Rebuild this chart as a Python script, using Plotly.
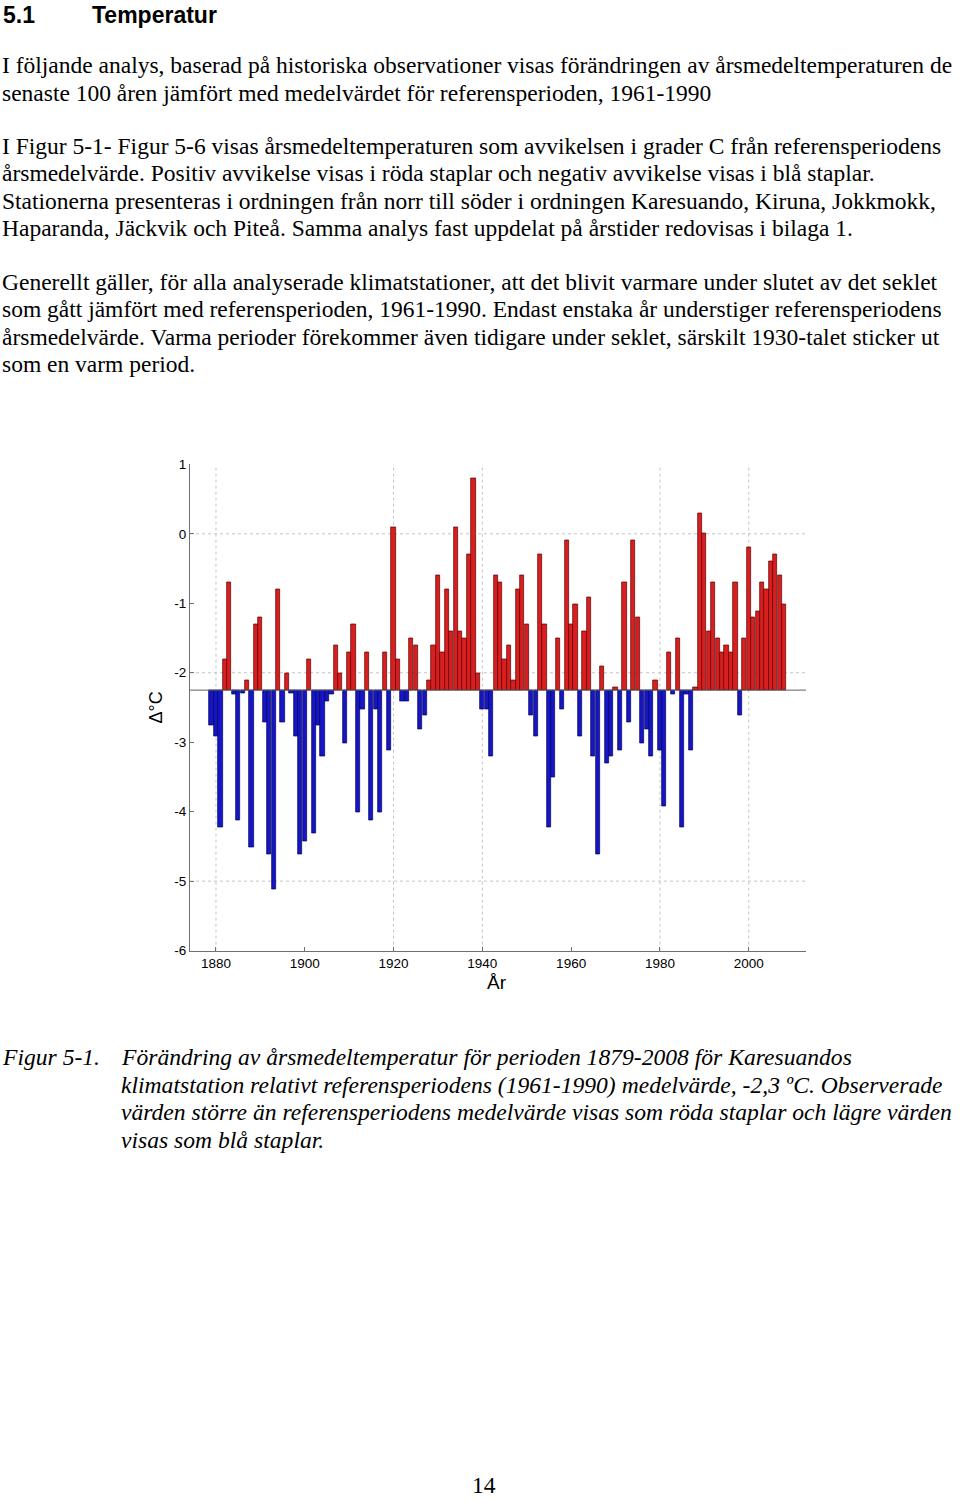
import plotly.graph_objects as go

W, H = 960, 1503
# the page is shown with a small vertical offset/compression; map page pixels -> figure pixels
Y_SCALE, Y_OFF = 0.98947, 7.9

# ---------------- data ----------------
years = list(range(1879, 2009))
temps = [
    -2.75, -2.91, -4.22, -1.81, -0.70, -2.31, -4.12, -2.30, -2.11, -4.52,   # 1879-1888
    -1.30, -1.20, -2.71, -4.62, -5.12, -0.80, -2.71, -2.01, -2.30, -2.91,   # 1889-1898
    -4.62, -4.42, -1.81, -4.31, -2.75, -3.21, -2.41, -2.31, -1.61, -2.01,   # 1899-1908
    -3.01, -1.71, -1.30, -4.01, -2.52, -1.71, -4.12, -2.52, -4.01, -1.71,   # 1909-1918
    -3.11, 0.10, -1.81, -2.41, -2.41, -1.51, -1.61, -2.81, -2.61, -2.11,    # 1919-1928
    -1.61, -0.60, -1.71, -0.80, -1.41, 0.10, -1.41, -1.51, -0.30, 0.80,     # 1929-1938
    -2.01, -2.52, -2.52, -3.21, -0.60, -0.70, -1.81, -1.61, -2.11, -0.80,   # 1939-1948
    -0.60, -1.30, -2.61, -2.91, -0.30, -1.30, -4.22, -3.51, -1.51, -2.52,   # 1949-1958
    -0.10, -1.30, -1.01, -2.91, -1.41, -0.91, -3.21, -4.62, -1.91, -3.31,   # 1959-1968
    -3.21, -2.21, -3.11, -0.70, -2.71, -0.10, -1.20, -3.01, -2.81, -3.21,   # 1969-1978
    -2.11, -3.11, -3.92, -1.71, -2.31, -1.51, -4.22, -2.31, -3.11, -2.21,   # 1979-1988
    0.30, 0.00, -1.41, -0.70, -1.51, -1.71, -1.61, -1.71, -0.70, -2.61,     # 1989-1998
    -1.51, -0.20, -1.20, -1.11, -0.70, -0.80, -0.40, -0.30, -0.60, -1.01,   # 1999-2008
]
reference_mean = -2.25

x_tick_vals = [1880, 1900, 1920, 1940, 1960, 1980, 2000]
x_tick_text = ["1880", "1900", "1920", "1940", "1960", "1980", "2000"]
y_tick_vals = [1, 0, -1, -2, -3, -4, -5, -6]
y_tick_text = ["1", "0", "-1", "-2", "-3", "-4", "-5", "-6"]

heading_num = "5.1"
heading_txt = "Temperatur"
para_lines = [
    "I följande analys, baserad på historiska observationer visas förändringen av årsmedeltemperaturen de",
    "senaste 100 åren jämfört med medelvärdet för referensperioden, 1961-1990",
    "I Figur 5-1- Figur 5-6 visas årsmedeltemperaturen som avvikelsen i grader C från referensperiodens",
    "årsmedelvärde. Positiv avvikelse visas i röda staplar och negativ avvikelse visas i blå staplar.",
    "Stationerna presenteras i ordningen från norr till söder i ordningen Karesuando, Kiruna, Jokkmokk,",
    "Haparanda, Jäckvik och Piteå. Samma analys fast uppdelat på årstider redovisas i bilaga 1.",
    "Generellt gäller, för alla analyserade klimatstationer, att det blivit varmare under slutet av det seklet",
    "som gått jämfört med referensperioden, 1961-1990. Endast enstaka år understiger referensperiodens",
    "årsmedelvärde. Varma perioder förekommer även tidigare under seklet, särskilt 1930-talet sticker ut",
    "som en varm period.",
]
para_y = [66, 94, 147, 174, 202, 229, 283, 310, 338, 365]
caption_label = "Figur 5-1."
caption_lines = [
    "Förändring av årsmedeltemperatur för perioden 1879-2008 för Karesuandos",
    "klimatstation relativt referensperiodens (1961-1990) medelvärde, -2,3 ºC. Observerade",
    "värden större än referensperiodens medelvärde visas som röda staplar och lägre värden",
    "visas som blå staplar.",
]
caption_y = [1057, 1085, 1112, 1140]
page_number = "14"

# ---------------- helpers ----------------
def px(x):
    return x / W

def py(y):
    yf = (y - Y_OFF) / Y_SCALE
    return 1 - yf / H

SERIF = "Liberation Serif"
SANS = "Liberation Sans"

pos_years = [y for y, t in zip(years, temps) if t >= reference_mean]
pos_dev = [t - reference_mean for t in temps if t >= reference_mean]
neg_years = [y for y, t in zip(years, temps) if t < reference_mean]
neg_dev = [t - reference_mean for t in temps if t < reference_mean]

fig = go.Figure()
fig.add_trace(go.Bar(
    x=pos_years, y=pos_dev, base=reference_mean, width=0.95,
    marker=dict(color="#d81e1e", line=dict(color="#5a0000", width=0.7)),
    showlegend=False, hoverinfo="skip",
))
fig.add_trace(go.Bar(
    x=neg_years, y=neg_dev, base=reference_mean, width=0.95,
    marker=dict(color="#1616c4", line=dict(color="#00005a", width=0.7)),
    showlegend=False, hoverinfo="skip",
))

x_range = [1874.15, 2012.9]
grid_style = dict(color="#c4c4c4", width=1, dash="3px,3px")
for gx in [1880, 1920, 1940, 1980, 2000]:
    fig.add_shape(type="line", xref="x", yref="y", x0=gx, x1=gx, y0=-6, y1=1,
                  line=grid_style, layer="below")
for gy in [0, -2, -5]:
    fig.add_shape(type="line", xref="x", yref="y", x0=x_range[0], x1=x_range[1], y0=gy, y1=gy,
                  line=grid_style, layer="below")
fig.add_shape(type="line", xref="x", yref="y", x0=x_range[0], x1=x_range[1],
              y0=reference_mean, y1=reference_mean,
              line=dict(color="#606060", width=1), layer="above")

fig.update_layout(
    width=W, height=H,
    margin=dict(l=0, r=0, t=0, b=0),
    paper_bgcolor="white", plot_bgcolor="white",
    bargap=0,
    xaxis=dict(
        domain=[px(190), px(806)], range=x_range,
        tickvals=x_tick_vals, ticktext=x_tick_text,
        showgrid=False, zeroline=False,
        showline=True, linecolor="#707070", linewidth=1,
        ticks="inside", ticklen=4, tickcolor="#707070",
        tickfont=dict(family=SANS, size=13.5, color="black"),
    ),
    yaxis=dict(
        domain=[py(951), py(465)], range=[-6, 1],
        tickvals=y_tick_vals, ticktext=y_tick_text,
        showgrid=False, zeroline=False,
        showline=True, linecolor="#707070", linewidth=1,
        ticks="inside", ticklen=4, tickcolor="#707070",
        tickfont=dict(family=SANS, size=13.5, color="black"),
    ),
)

ann = []
ann.append(dict(text="<b>" + heading_num + "</b>", x=px(1), y=py(16), xanchor="left", yanchor="middle",
                font=dict(family=SANS, size=23, color="black")))
ann.append(dict(text="<b>" + heading_txt + "</b>", x=px(90), y=py(16), xanchor="left", yanchor="middle",
                font=dict(family=SANS, size=23, color="black")))
for t, yy in zip(para_lines, para_y):
    ann.append(dict(text=t, x=px(0), y=py(yy), xanchor="left", yanchor="middle",
                    font=dict(family=SERIF, size=23.5, color="black")))
ann.append(dict(text="<i>" + caption_label + "</i>", x=px(0), y=py(caption_y[0]), xanchor="left", yanchor="middle",
                font=dict(family=SERIF, size=23.6, color="black")))
for t, yy in zip(caption_lines, caption_y):
    ann.append(dict(text="<i>" + t + "</i>", x=px(119), y=py(yy), xanchor="left", yanchor="middle",
                    font=dict(family=SERIF, size=23.6, color="black")))
ann.append(dict(text=page_number, x=px(484), y=py(1485), xanchor="center", yanchor="middle",
                font=dict(family=SERIF, size=23.5, color="black")))
ann.append(dict(text="År", x=px(497), y=py(983), xanchor="center", yanchor="middle",
                font=dict(family=SANS, size=19, color="black")))
ann.append(dict(text="Δ°C", x=px(156), y=py(708), xanchor="center", yanchor="middle", textangle=-90,
                font=dict(family=SANS, size=18, color="black")))
for a in ann:
    a.update(xref="paper", yref="paper", showarrow=False)
fig.update_layout(annotations=ann)

fig.write_html("out.html", config={"displayModeBar": False},
               post_script="document.body.style.margin='0';")
